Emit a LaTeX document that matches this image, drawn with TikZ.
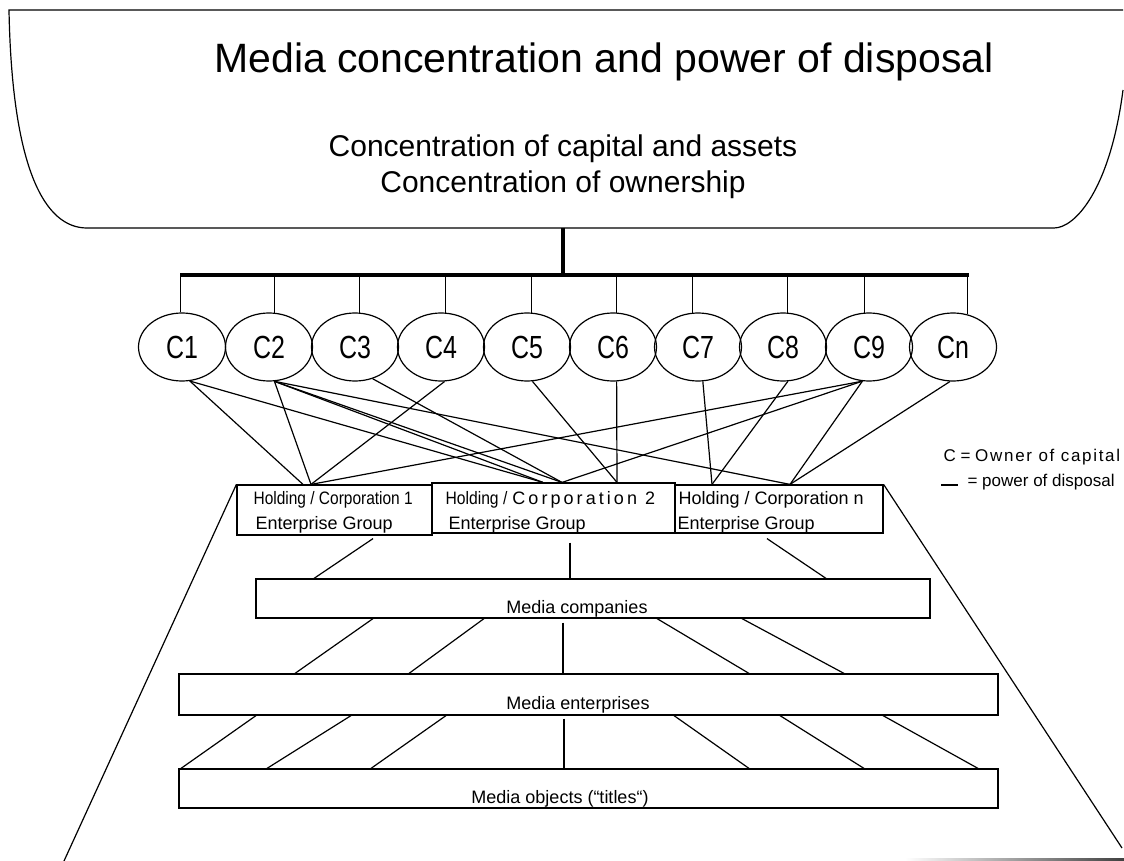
\documentclass[tikz,border=0pt]{standalone}
\usepackage{fontspec}
\setmainfont{Liberation Sans}
\usepackage{graphicx}
\usepackage{tikz}
\usetikzlibrary{shapes.geometric}

\begin{document}
\begin{tikzpicture}[x=1pt, y=-1pt,
    line width=1.2pt,
    owner/.style={
    draw,
    ellipse,
    inner sep=0pt,
    minimum width=87pt,
    minimum height=68pt,
    font=\fontsize{32}{32}\selectfont},
    box/.style={draw, rectangle, inner sep=0pt},
    boxtext/.style={inner sep=0pt, anchor=base west, font=\fontsize{18}{18}\selectfont},
    leveltext/.style={inner sep=0pt, anchor=base, font=\fontsize{18}{18}\selectfont},
    legend/.style={inner sep=0pt, anchor=base west, font=\fontsize{17}{17}\selectfont},
    heavy/.style={line width=4.5pt}]

    \useasboundingbox (0,0) rectangle (1124,861);

    \draw (1123,10) -- (9,10) .. controls (12,170) and (45,228) .. (87,228)
        -- (1054,228) .. controls (1075,228) and (1110,190) .. (1123,90);
    \node[anchor=base, font=\fontsize{41}{41}\selectfont] (title) at (604,73) {Media concentration and power of disposal};
    \node[anchor=base, font=\fontsize{30}{30}\selectfont] (sub1) at (563,157) {Concentration of capital and assets};
    \node[anchor=base, font=\fontsize{30}{30}\selectfont] (sub2) at (563,193) {Concentration of ownership};

    \coordinate (topbase) at (563,228);
    \coordinate (bus) at (563,275);

    \foreach \n/\x/\lab in {1/182/C1, 2/269/C2, 3/355/C3, 4/441/C4, 5/527/C5,
                            6/613/C6, 7/698/C7, 8/783/C8, 9/869/C9, n/953/Cn}
        \node[owner] (c\n) at (\x,347) {\scalebox{0.78}[1]{\lab}};

    \draw[heavy] (topbase) -- (bus);
    \draw[heavy] (c1.93 |- bus) -- (cn.64 |- bus);
    \foreach \n/\a in {1/93, 2/81, 3/82, 4/82, 5/82, 6/84, 7/99, 8/82, 9/98, n/66}
        \draw (c\n.\a) -- (c\n.\a |- bus);

    \node[box, minimum width=195pt, minimum height=50pt] (h1) at (334.5,510) {};
    \node[box, minimum width=243pt, minimum height=50pt] (h2) at (553.5,508) {};
    \node[box, minimum width=208pt, minimum height=48pt] (hn) at (779,509) {};

    \node[boxtext] (h1l1) at (253,504) {\scalebox{0.86}[1]{Holding / Corporation 1}};
    \node[boxtext] (h1l2) at (255,529) {Enterprise Group};
    \node[boxtext] (h2l1) at (445,504) {\scalebox{0.87}[1]{Holding /} {\addfontfeature{LetterSpace=17}Corporation 2}};
    \node[boxtext] (h2l2) at (448,529) {Enterprise Group};
    \node[boxtext] (hnl1) at (678,504) {Holding / Corporation n};
    \node[boxtext] (hnl2) at (677,529) {Enterprise Group};

    \coordinate (h1p) at ([xshift=-31.5]h1.north);
    \coordinate (h1q) at ([xshift=-23.5]h1.north);
    \coordinate (h2p) at ([xshift=-10.5]h2.north);
    \coordinate (h2q) at ([xshift=8.5]h2.north);
    \coordinate (h2r) at ([xshift=63.5]h2.north);
    \coordinate (hnp) at ([xshift=-67]hn.north);
    \coordinate (hnq) at ([xshift=11]hn.north);

    \foreach \from/\to in {c1.-77/h1p, c1.-77/h2p, c2.-81/h1q, c2.-81/h2p,
                           c2.-81/h2q, c2.-81/hnq, c3.-61/h2q, c4.-84/h1q,
                           c5.-81/h2r, c6.-84/h2r, c7.-82/hnp, c8.-82/hnp,
                           c9.-101/h1q, c9.-101/h2q, c9.-101/hnq, cn.-95/hnq}
        \draw (\from) -- (\to);

    \node[legend] (capital) at (943,461) {C = {\addfontfeature{LetterSpace=10}Owner of capital}};
    \node[legend] (disposal) at (967,486) {= power of disposal};
    \coordinate (legdash) at (941,485);
    \draw (legdash) -- ++(17,0);

    \node[box, minimum width=674pt, minimum height=39pt] (comp) at (593,598.5) {};
    \node[box, minimum width=819pt, minimum height=41pt] (ent) at (588.5,694.5) {};
    \node[box, minimum width=819pt, minimum height=39pt] (obj) at (588.5,788.5) {};
    \node[leveltext] (compl) at (577,613) {Media companies};
    \node[leveltext] (entl) at (578,709) {Media enterprises};
    \node[leveltext] (objl) at (560,803) {Media objects (“titles“)};

    \draw ([shift={(38.5,3)}]h1.south) -- ([xshift=-279]comp.north);
    \draw ([shift={(16.5,9)}]h2.south) -- ([xshift=-23]comp.north);
    \draw ([shift={(-12,5)}]hn.south) -- ([xshift=233]comp.north);

    \foreach \a/\b in {-220/-293.5, -109/-179.5, 64/160.5, 149/255.5}
        \draw ([xshift=\a]comp.south) -- ([xshift=\b]ent.north);
    \draw ([shift={(-30,4)}]comp.south) -- ([xshift=-25.5]ent.north);

    \foreach \a/\b in {-332.5/-407.5, -237.5/-321.5, -142.5/-217.5,
                       85.5/160.5, 191.5/275.5, 294.5/389.5}
        \draw ([xshift=\a]ent.south) -- ([xshift=\b]obj.north);
    \draw ([shift={(-24.5,3)}]ent.south) -- ([xshift=-24.5]obj.north);

    \coordinate (trapL) at (64,861);
    \coordinate (trapR) at (1122,848);
    \draw (h1.north west) -- (trapL);
    \draw (hn.north east) -- (trapR);

    \shade[left color=white, right color=black!75] (905,858) rectangle (1124,861);
\end{tikzpicture}
\end{document}
